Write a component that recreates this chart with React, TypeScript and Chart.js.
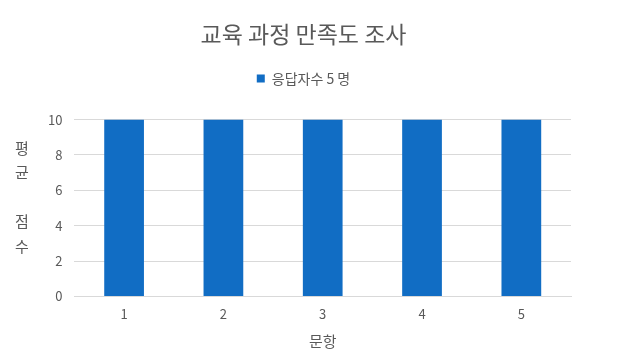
import React, { useEffect, useRef } from "react";
import { Chart, registerables } from "chart.js";

Chart.register(...registerables);

const categories = ["1", "2", "3", "4", "5"];
const values = [10, 10, 10, 10, 10];
const seriesLabel = "응답자수 5 명";
const chartTitle = "교육 과정 만족도 조사";
const xTitle = "문항";
const yTitleLines = ["평", "균", "", "점", "수"];

const FONT = "'Malgun Gothic', 'Noto Sans CJK KR', sans-serif";
const GREY = "#595959";

export default function App() {
  const ref = useRef<HTMLCanvasElement | null>(null);
  useEffect(() => {
    document.body.style.margin = "0";
    const yTitlePlugin = {
      id: "yTitle",
      afterDraw(chart: any) {
        const ctx = chart.ctx;
        ctx.save();
        ctx.font = `15px ${FONT}`;
        ctx.fillStyle = GREY;
        ctx.textAlign = "center";
        ctx.textBaseline = "middle";
        const startY = 148;
        yTitleLines.forEach((t, i) => {
          if (t) ctx.fillText(t, 22, startY + i * 24.5);
        });
        ctx.restore();
      },
    };
    const legendGap = {
      id: "legendGap",
      beforeInit(chart: any) {
        const orig = chart.legend.fit;
        chart.legend.fit = function () {
          orig.bind(this)();
          this.height += 24;
        };
      },
    };
    const chart = new Chart(ref.current!, {
      type: "bar",
      data: {
        labels: categories,
        datasets: [
          {
            label: seriesLabel,
            data: values,
            backgroundColor: "#116DC4",
            barPercentage: 0.4,
            categoryPercentage: 1.0,
          },
        ],
      },
      options: {
        animation: false,
        responsive: false,
        layout: { padding: { left: 36, right: 61, top: 20, bottom: 13 } },
        plugins: {
          title: {
            display: true,
            text: chartTitle,
            color: GREY,
            font: { family: FONT, size: 23, weight: "normal" },
            padding: { top: 0, bottom: 14 },
          },
          legend: {
            display: true,
            position: "top",
            labels: {
              color: GREY,
              font: { family: FONT, size: 14 },
              boxWidth: 8,
              boxHeight: 8,
              padding: 10,
            },
          },
          tooltip: { enabled: false },
        },
        scales: {
          x: {
            grid: { display: false, drawTicks: false },
            border: { display: true, color: "#D9D9D9" },
            ticks: { color: GREY, font: { family: FONT, size: 13 }, padding: 10 },
            title: {
              display: true,
              text: xTitle,
              color: GREY,
              font: { family: FONT, size: 15 },
              padding: { top: 0, bottom: 0 },
            },
          },
          y: {
            min: 0,
            max: 10,
            ticks: { stepSize: 2, color: GREY, font: { family: FONT, size: 13 }, padding: 12 },
            grid: { color: "#D9D9D9", drawTicks: false },
            border: { display: false },
          },
        },
      },
      plugins: [yTitlePlugin, legendGap],
    });
    return () => chart.destroy();
  }, []);
  return <canvas ref={ref} width={632} height={363} style={{ display: "block" }} />;
}
